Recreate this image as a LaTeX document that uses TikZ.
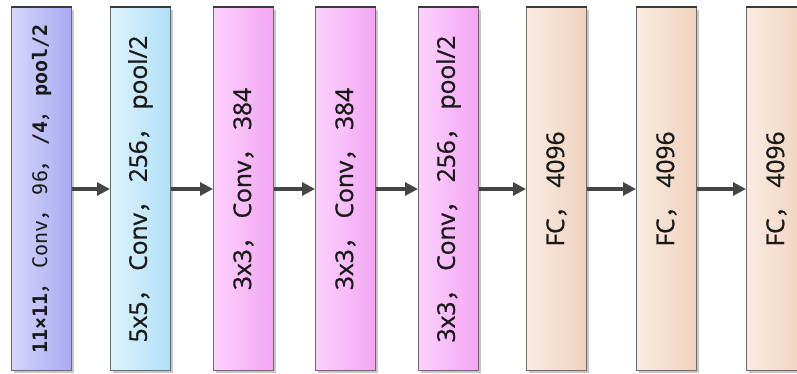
\documentclass[tikz,border=0pt]{standalone}
\usepackage{fontspec}
\setmainfont{Open Sans}
\newfontfamily\labelfont[FakeBold=0.9]{Open Sans}
\newfontfamily\cjk[FakeBold=0.9]{Noto Sans CJK SC}
\newfontfamily\monofont{DejaVu Sans Mono}
\usetikzlibrary{arrows.meta}

\newcommand{\wc}{{\cjk ，}}

\definecolor{edge}{HTML}{6A6A6A}
\definecolor{topline}{HTML}{3A3A3A}
\definecolor{arrowc}{HTML}{454545}
\definecolor{purpleL}{HTML}{D6D6FC}
\definecolor{purpleR}{HTML}{A9A9F3}
\definecolor{blueL}{HTML}{DDF2FC}
\definecolor{blueR}{HTML}{B3E0F7}
\definecolor{pinkL}{HTML}{FCD2FC}
\definecolor{pinkR}{HTML}{F3A6F3}
\definecolor{peachL}{HTML}{FAEBE2}
\definecolor{peachR}{HTML}{F0D2BE}

\tikzset{
  layer/.style={draw=edge, line width=1pt, minimum width=60pt, minimum height=363pt,
    inner sep=0pt, anchor=north west},
  shadowbox/.style={fill=black!22, draw=none, minimum width=60pt, minimum height=363pt,
    inner sep=0pt, anchor=north west},
  label/.style={rotate=90, font=\labelfont\fontsize{24.5}{28}\selectfont, text=black!90},
  conn/.style={draw=arrowc, line width=3pt, -{Triangle[length=13pt, width=13pt]}},
  topedge/.style={draw=topline, line width=2pt},
}

\begin{document}
\begin{tikzpicture}[x=1pt, y=-1pt]
  \useasboundingbox (0,0) rectangle (797,374);
  \clip (0,0) rectangle (797,374);

  % soft shadows behind the layer boxes
  \foreach \xx in {11,110,213,315,418,526,636,746}
    \node[shadowbox] at (\xx+2.5,9.5) {};

  % layer boxes
  \node[layer, left color=purpleL, right color=purpleR] (b1) at (11,7) {};
  \node[layer, left color=blueL, right color=blueR] (b2) at (110,7) {};
  \node[layer, left color=pinkL, right color=pinkR] (b3) at (213,7) {};
  \node[layer, left color=pinkL, right color=pinkR] (b4) at (315,7) {};
  \node[layer, left color=pinkL, right color=pinkR] (b5) at (418,7) {};
  \node[layer, left color=peachL, right color=peachR] (b6) at (526,7) {};
  \node[layer, left color=peachL, right color=peachR] (b7) at (636,7) {};
  \node[layer, left color=peachL, right color=peachR] (b8) at (746,7) {};

  % darker top edges
  \foreach \b in {b1,b2,b3,b4,b5,b6,b7,b8}
    \draw[topedge] (\b.north west) -- (\b.north east);

  % labels
  \node[label, font=\fontsize{20}{24}\selectfont] (t1) at (b1.center)
    {{\monofont\bfseries 11×11}\wc\ {\monofont Conv}\wc\ {\monofont 96}\wc\ {\monofont\bfseries /4}\wc\ {\monofont\bfseries pool/2}};
  \node[label] (t2) at (b2.center) {5x5\wc\ Conv\wc\ 256\wc\ pool/2};
  \node[label] (t3) at (b3.center) {3x3\wc\ Conv\wc\ 384};
  \node[label] (t4) at (b4.center) {3x3\wc\ Conv\wc\ 384};
  \node[label] (t5) at (b5.center) {3x3\wc\ Conv\wc\ 256\wc\ pool/2};
  \node[label] (t6) at (b6.center) {FC\wc\ 4096};
  \node[label] (t7) at (b7.center) {FC\wc\ 4096};
  \node[label] (t8) at (b8.center) {FC\wc\ 4096};

  % connectors
  \draw[conn] (b1.east) -- (b2.west);
  \draw[conn] (b2.east) -- (b3.west);
  \draw[conn] (b3.east) -- (b4.west);
  \draw[conn] (b4.east) -- (b5.west);
  \draw[conn] (b5.east) -- (b6.west);
  \draw[conn] (b6.east) -- (b7.west);
  \draw[conn] (b7.east) -- (b8.west);
\end{tikzpicture}
\end{document}
